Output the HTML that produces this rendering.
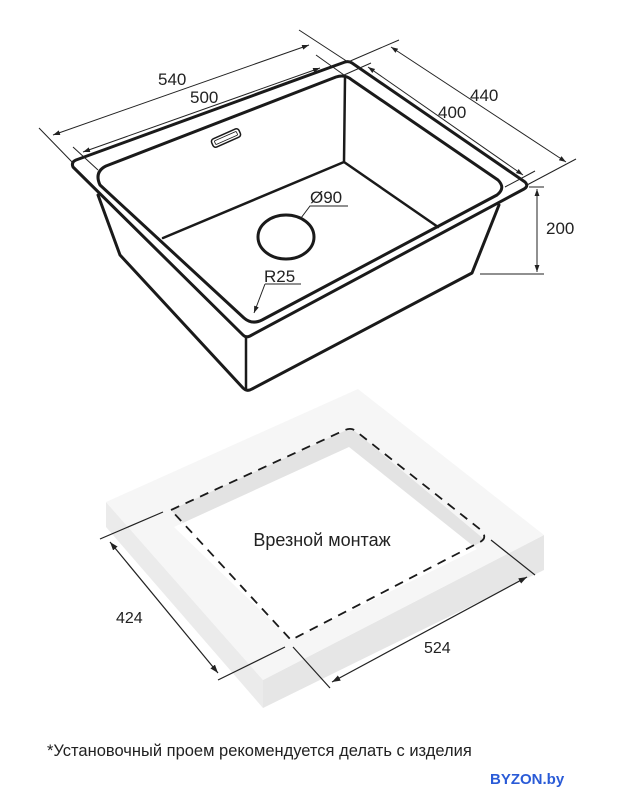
<!DOCTYPE html>
<html><head><meta charset="utf-8"><style>
html,body{margin:0;padding:0;background:#fff;}
svg{display:block;}
text{font-family:"Liberation Sans","DejaVu Sans",sans-serif;fill:#222;}
</style></head><body>
<svg width="629" height="800" viewBox="0 0 629 800" xmlns="http://www.w3.org/2000/svg">
<defs>
<marker id="a" viewBox="0 0 10 10" refX="10" refY="5" markerWidth="7" markerHeight="7" orient="auto-start-reverse"><path d="M0,1.5 L10,5 L0,8.5 z" fill="#222"/></marker>
</defs>
<g fill="none" stroke="#1a1a1a" stroke-linejoin="round" stroke-linecap="round">
<path d="M76,160 L345,62 Q349,61 352,63 L525,182 Q529,186 524,189 L250,336 Q246,338 243,335 L73,167 Q71,162 76,160 Z" stroke-width="3"/>
<path d="M106,166 L336,77 Q345,74 352,80 L498,180 Q506,188 497,195 L262,320 Q252,325 244,318 L100,185 Q94,172 106,166 Z" stroke-width="3"/>
<path d="M98,195 L120,255 L243,388 Q247,392 252,389 L472,273 L499,205" stroke-width="3"/>
<path d="M246,337 L246,389" stroke-width="2.5"/>
<path d="M345,78 L344,162 L163,238 M344,162 L438,227" stroke-width="2.5"/>
<ellipse cx="286" cy="237" rx="28" ry="22" stroke-width="3"/>
<g transform="translate(226,138) rotate(-24)"><rect x="-15" y="-4.5" width="30" height="9" rx="3" stroke-width="1.5"/><rect x="-12" y="-2" width="24" height="4" rx="1" stroke-width="0.8"/></g>
</g>
<g stroke="#222" stroke-width="1" fill="none">
<line x1="39" y1="128" x2="73" y2="163"/><line x1="299" y1="30" x2="348" y2="62"/>
<line x1="53" y1="135" x2="309" y2="45" marker-start="url(#a)" marker-end="url(#a)"/>
<line x1="73" y1="147" x2="98" y2="170"/><line x1="316" y1="55" x2="344" y2="75"/>
<line x1="83" y1="152" x2="320" y2="68" marker-start="url(#a)" marker-end="url(#a)"/>
<line x1="399" y1="40" x2="348" y2="62"/><line x1="576" y1="159" x2="527" y2="185"/>
<line x1="391" y1="47" x2="566" y2="162" marker-start="url(#a)" marker-end="url(#a)"/>
<line x1="371" y1="63" x2="344" y2="75"/><line x1="535" y1="171" x2="505" y2="187"/>
<line x1="368" y1="67" x2="523" y2="175" marker-start="url(#a)" marker-end="url(#a)"/>
<line x1="529" y1="187" x2="544" y2="187"/><line x1="480" y1="274" x2="544" y2="274"/>
<line x1="537" y1="189" x2="537" y2="272" marker-start="url(#a)" marker-end="url(#a)"/>
<polyline points="301,218 310,206 348,206"/>
<line x1="265" y1="284" x2="301" y2="284"/>
<line x1="265" y1="284" x2="254" y2="313" marker-end="url(#a)"/>
</g>
<text x="158" y="85" font-size="17">540</text>
<text x="190" y="103" font-size="17">500</text>
<text x="470" y="101" font-size="17">440</text>
<text x="438" y="118" font-size="17">400</text>
<text x="546" y="234" font-size="17">200</text>
<text x="310" y="203" font-size="17">Ø90</text>
<text x="264" y="282" font-size="17">R25</text>

<polygon points="106,502 106,527 263,708 263,680" fill="#ebebeb"/>
<polygon points="263,680 263,708 544,570 544,535" fill="#e6e6e6"/>
<polygon points="106,502 358,389 544,535 263,680" fill="#f6f6f6"/>
<polygon points="171,510 351,428 485,540 291,640" fill="#e3e3e3"/>
<polygon points="174,527 349,447 477,549 291,640" fill="#fff"/>
<path d="M171,510 L345,430 Q352,427 357,432 L481,530 Q488,538 480,542 L291,640 Z" fill="none" stroke="#1a1a1a" stroke-width="1.8" stroke-dasharray="9,7"/>
<g stroke="#222" stroke-width="1.2" fill="none">
<line x1="100" y1="539" x2="163" y2="512"/><line x1="218" y1="680" x2="285" y2="647"/>
<line x1="110" y1="542" x2="218" y2="673" marker-start="url(#a)" marker-end="url(#a)"/>
<line x1="293" y1="647" x2="330" y2="688"/><line x1="491" y1="540" x2="535" y2="575"/>
<line x1="332" y1="682" x2="527" y2="577" marker-start="url(#a)" marker-end="url(#a)"/>
</g>
<text x="322" y="546" font-size="18" text-anchor="middle">Врезной монтаж</text>
<text x="116" y="623" font-size="16">424</text>
<text x="424" y="653" font-size="16">524</text>
<text x="47" y="756" font-size="16.5">*Установочный проем рекомендуется делать с изделия</text>
<text x="490" y="784" font-size="15" font-weight="bold" style="fill:#2a5bd7">BYZON.by</text>
</svg>
</body></html>
